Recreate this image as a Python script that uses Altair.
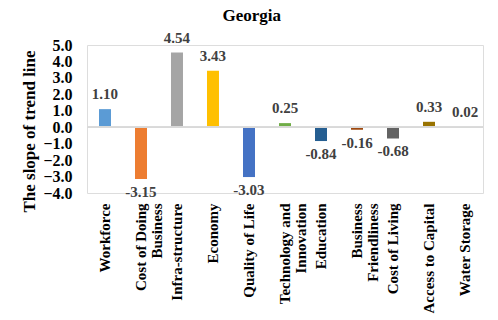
import altair as alt
import pandas as pd

categories = ["Workforce", "Cost of Doing\nBusiness", "Infra-structure", "Economy",
              "Quality of Life", "Technology and\nInnovation", "Education",
              "Business\nFriendliness", "Cost of Living", "Access to Capital", "Water Storage"]
values = [1.10, -3.15, 4.54, 3.43, -3.03, 0.25, -0.84, -0.16, -0.68, 0.33, 0.02]
colors = ["#5B9BD5", "#ED7D31", "#A5A5A5", "#FFC000", "#4472C4", "#70AD47",
          "#255E91", "#9E480E", "#636363", "#997300", "#43682B"]
y_ticks = [-4, -3, -2, -1, 0, 1, 2, 3, 4, 5]

NB = "\u00a0"


def center_lines(label):
    # pad the shorter line with non-breaking spaces so lines look centred
    lines = label.split("\n")
    if len(lines) == 1:
        return label
    pad = {"Business": 4, "Innovation": 4}
    out = []
    for i, ln in enumerate(lines):
        n = pad.get(ln, 0)
        if ln == "Business" and i == 0:
            n = 3
        out.append(ln + NB * n)
    return "\n".join(out)


df = pd.DataFrame({"cat": categories, "val": values, "col": colors})
df["disp"] = df["cat"].map(center_lines)
df["lbl"] = df["val"].map(lambda v: f"{v:.2f}")
disp_order = list(df["disp"])

FONT = "Liberation Serif"
W, H = 396, 148

xscale = alt.Scale(paddingInner=0.667, paddingOuter=0.333)
yscale = alt.Scale(domain=[-4, 5], nice=False, zero=False)

xaxis = alt.Axis(title=None, labelAngle=-90, labelAlign="right", labelBaseline="middle",
                 labelExpr="split(datum.label, '\\n')",
                 labelFont=FONT, labelFontSize=15, labelFontWeight="bold",
                 labelColor="#000000", labelPadding=10, labelLimit=0,
                 labelLineHeight=16, domain=False, ticks=False)
yaxis = alt.Axis(title="The slope of trend line", values=y_ticks, format=".1f",
                 labelFont=FONT, labelFontSize=16, labelFontWeight="bold",
                 labelColor="#000000", labelPadding=15, labelOverlap=False,
                 labelBound=False, labelFlush=False,
                 domain=False, ticks=False, grid=False,
                 titleFont=FONT, titleFontSize=17, titleFontWeight="bold",
                 titleColor="#000000", titleAngle=-90, titleAlign="center",
                 titleBaseline="middle", titleX=-58, titleY=86)

xenc = alt.X("disp:N", sort=disp_order, scale=xscale, axis=xaxis)
yenc = alt.Y("val:Q", scale=yscale, axis=yaxis)

base = alt.Chart(df)

bars = base.mark_bar().encode(x=xenc, y=yenc, color=alt.Color("col:N", scale=None))

zero = base.mark_rule(color="#D9D9D9", strokeWidth=1).encode(
    x=alt.value(0), x2=alt.value(W), y=alt.datum(0, scale=yscale, axis=yaxis)
)

pos = base.transform_filter("datum.val >= 0").mark_text(
    baseline="bottom", dy=-7, font=FONT, fontSize=15, fontWeight="bold", color="#404040"
).encode(x=xenc, y=yenc, text="lbl:N")

neg = base.transform_filter("datum.val < 0").mark_text(
    baseline="top", dy=6, font=FONT, fontSize=15, fontWeight="bold", color="#404040"
).encode(x=xenc, y=yenc, text="lbl:N")

chart = alt.layer(bars, zero, pos, neg).properties(
    width=W, height=H,
    title=alt.TitleParams("Georgia", font=FONT, fontSize=17, fontWeight="bold",
                          color="#000000", anchor="middle", frame="bounds", offset=6),
    autosize=alt.AutoSizeParams(type="none"),
    padding={"left": 87, "top": 45, "right": 15, "bottom": 127},
).configure_view(strokeWidth=0).configure_axisY(labelOverlap=False).configure(background="white")

chart.save("out.html", embed_options={"renderer": "svg", "actions": False})
